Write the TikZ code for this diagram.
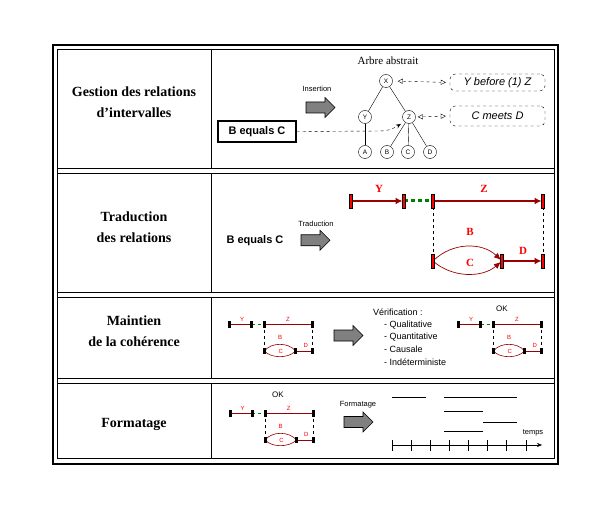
\documentclass[tikz,border=0pt]{standalone}
\usepackage{fontspec}
\setmainfont{Liberation Serif}
\setsansfont{Liberation Sans}
\usetikzlibrary{arrows.meta, calc}

\definecolor{bordeaux}{RGB}{153,0,0}
\definecolor{vertpointille}{RGB}{0,128,0}

% grosse fleche grise, centree au point donne
\newcommand{\flechegrise}[1]{%
  \draw[fill=gray, line width=0.6pt] #1 ++(-14.5,5.5) -- ++(19,0) -- ++(0,4.5)
    -- ++(10,-10) -- ++(-10,-10) -- ++(0,4.5) -- ++(-19,0) -- cycle;}

% petit schema des intervalles (Y, Z, B, C, D)
\newcommand{\petitchrono}[1]{%
  \begin{scope}[shift={#1}]
    \coordinate (pYs) at (0,0);
    \coordinate (pYe) at (22.4,0);
    \coordinate (pZs) at (35,0);
    \coordinate (pZe) at (83.4,0);
    \coordinate (pCs) at (35,26.7);
    \coordinate (pCe) at (66.4,26.7);
    \coordinate (pDe) at (83.4,26.7);
    \draw[vertpointille, dashed, line width=0.8pt] (pYe) -- (pZs);
    \draw[dashed, line width=0.6pt] (pZs) -- (pCs);
    \draw[dashed, line width=0.6pt] (pZe) -- (pDe);
    \draw[bordeaux, line width=0.9pt] (pYs) -- (pYe);
    \draw[bordeaux, line width=0.9pt] (pZs) -- (pZe);
    \draw[bordeaux, line width=0.9pt] (pCe) -- (pDe);
    \draw[bordeaux, line width=0.6pt] (pCs) .. controls (42,17.8) and (59,17.8) .. (pCe);
    \draw[bordeaux, line width=0.6pt] (pCs) .. controls (42,34.3) and (59,34.3) .. (pCe);
    \foreach \p in {pYs,pYe,pZs,pZe,pCs,pCe,pDe}
      \fill ($(\p)+(-1.5,-3.2)$) rectangle ($(\p)+(1.5,3.2)$);
    \node[petitetiq] at (12.7,-5.3) {Y};
    \node[petitetiq] at (58.7,-5.3) {Z};
    \node[petitetiq] at (50.7,13) {B};
    \node[petitetiq] at (51.5,26.7) {C};
    \node[petitetiq] at (76.4,21.4) {D};
  \end{scope}}

\begin{document}
\begin{tikzpicture}[x=1pt, y=-1pt,
    titre/.style={font=\bfseries\fontsize{14}{21}\selectfont, align=center},
    petit/.style={font=\sffamily\fontsize{7.5}{9}\selectfont},
    noeud/.style={circle, draw, inner sep=0pt, minimum size=13pt,
      font=\sffamily\fontsize{6.5}{7}\selectfont},
    relation/.style={draw, dashed, rounded corners=5pt, minimum width=95pt,
      font=\sffamily\itshape\fontsize{11}{12}\selectfont},
    lien/.style={dashed, {Triangle[open,length=5pt,width=5pt]}-{Triangle[open,length=5pt,width=5pt]}},
    barre/.style={fill=red, draw=black, line width=0.5pt},
    intervalle/.style={bordeaux, line width=2.2pt, -{Latex[length=7pt,width=7pt]}, shorten >=1.5pt},
    etiq/.style={text=red, font=\bfseries\fontsize{11}{11}\selectfont},
    petitetiq/.style={text=red, font=\sffamily\fontsize{6}{6}\selectfont, inner sep=0pt},
    equiv/.style={font=\sffamily\bfseries\fontsize{11}{12}\selectfont},
  ]
\useasboundingbox (0,0) rectangle (612,510);

%cadre
\draw[line width=2pt] (53,45) rectangle (558,464);
\foreach \haut/\bas in {49/168,173/292,297/378,383/458} {
  \draw[line width=0.8pt] (57,\haut) rectangle (554.5,\bas);
  \draw[line width=0.8pt] (211,\haut) -- (211,\bas);
}
\draw[line width=0.8pt] (57,49) -- (57,458);
\draw[line width=0.8pt] (554.5,49) -- (554.5,458);

%titres des etapes
\node[titre] (gestion) at (134,102) {Gestion des relations\\d’intervalles};
\node[titre] (traduction) at (134,227) {Traduction\\des relations};
\node[titre] (maintien) at (134,331.5) {Maintien\\de la cohérence};
\node[titre] (formatage) at (134,424) {Formatage};

%etape 1 : arbre abstrait
\node[font=\fontsize{11}{12}\selectfont] (arbre) at (388,60.5) {Arbre abstrait};
\node[noeud] (nx) at (386,81) {X};
\node[noeud] (ny) at (365,117) {Y};
\node[noeud] (nz) at (409,117) {Z};
\node[noeud] (na) at (365,152) {A};
\node[noeud] (nb) at (387,152) {B};
\node[noeud] (nc) at (408,152) {C};
\node[noeud] (nd) at (430,152) {D};
\draw (nx) -- (ny);
\draw (nx) -- (nz);
\draw (ny) -- (na);
\draw (nz) -- (nb);
\draw (nz) -- (nc);
\draw (nz) -- (nd);

\node[relation, minimum height=15pt] (avant) at (497.5,82.5) {Y before (1) Z};
\node[relation, minimum height=20pt] (rencontre) at (497.5,116) {C meets D};
\draw[lien, shorten <=5pt, shorten >=4pt] (nx.east) -- (avant.west);
\draw[lien, shorten <=2pt, shorten >=4pt] (nz.east) -- (rencontre.west);

\node[petit] (insertion) at (317,89) {Insertion};
\flechegrise{(320.5,107.5)}
\node[equiv, draw, line width=1.2pt, minimum width=78pt, minimum height=21pt] (equiv1) at (257,131.5) {B equals C};
\draw[dashed, -{Stealth[length=5pt,width=4pt]}, shorten >=4pt]
  (equiv1.east) -- (380,131) .. controls (390,131) and (396,127) .. (nz.south west);

%etape 2 : traduction
\node[equiv] (equiv2) at (255,241) {B equals C};
\node[petit] (trad) at (316,224) {Traduction};
\flechegrise{(315.5,240.3)}

\coordinate (Ys) at (351,201);
\coordinate (Ye) at (404,201);
\coordinate (Zs) at (433,201);
\coordinate (Ze) at (543,201);
\coordinate (Cs) at (433,261);
\coordinate (Ce) at (502,261);
\coordinate (De) at (543,261);

\draw[vertpointille, line width=3pt, dash pattern=on 4pt off 3pt] (Ye) -- (Zs);
\draw[dashed] (Zs) -- (Cs);
\draw[dashed] (Ze) -- (De);
\draw[intervalle] (Ys) -- (Ye);
\draw[intervalle] (Zs) -- (Ze);
\draw[intervalle] (Ce) -- (De);
\draw[bordeaux, line width=0.7pt, -{Latex[length=7pt,width=6pt]}, shorten >=1.5pt]
  (Cs) .. controls (452,242) and (482,242) .. (Ce);
\draw[bordeaux, line width=0.7pt, -{Latex[length=7pt,width=6pt]}, shorten >=1.5pt]
  (Cs) .. controls (452,278) and (482,278) .. (Ce);
\foreach \p in {Ys,Ye,Zs,Ze,Cs,Ce,De}
  \draw[barre] ($(\p)+(-1.5,-7)$) rectangle ($(\p)+(1.5,7)$);

\node[etiq] (ly) at (379,189) {Y};
\node[etiq] (lz) at (484,189) {Z};
\node[etiq] (lb) at (470,232) {B};
\node[etiq] (lc) at (470,263) {C};
\node[etiq] (ld) at (523,251) {D};

%etape 3 : maintien de la coherence
\petitchrono{(229.3,324.3)}
\flechegrise{(348.5,335.5)}
\node[font=\sffamily\fontsize{9}{11}\selectfont, anchor=west] (verif) at (369.5,312) {Vérification :};
\node[font=\sffamily\fontsize{9}{12.7}\selectfont, align=left, anchor=north west] (criteres) at (380.5,317)
  {- Qualitative\\- Quantitative\\- Causale\\- Indéterministe};
\node[font=\sffamily\fontsize{8}{9}\selectfont] (ok1) at (502,309) {OK};
\petitchrono{(458.3,324.3)}

%etape 4 : formatage
\node[font=\sffamily\fontsize{8}{9}\selectfont] (ok2) at (278,395) {OK};
\petitchrono{(230,413.3)}
\node[petit] (format) at (358,405) {Formatage};
\flechegrise{(358.5,422)}

\draw (392,397) -- (426,397);
\draw (444,397) -- (517,397);
\draw (444,411) -- (483,411);
\draw (483,422) -- (517,422);
\draw (444,431) -- (483,431);
\draw[-{Stealth[length=5pt,width=4pt]}] (392,445) -- (542,445);
\foreach \i in {0,...,7}
  \draw ({392+19.1*\i},440) -- ({392+19.1*\i},451);
\node[font=\sffamily\fontsize{7.5}{9}\selectfont] (temps) at (533,433) {temps};
\end{tikzpicture}
\end{document}
